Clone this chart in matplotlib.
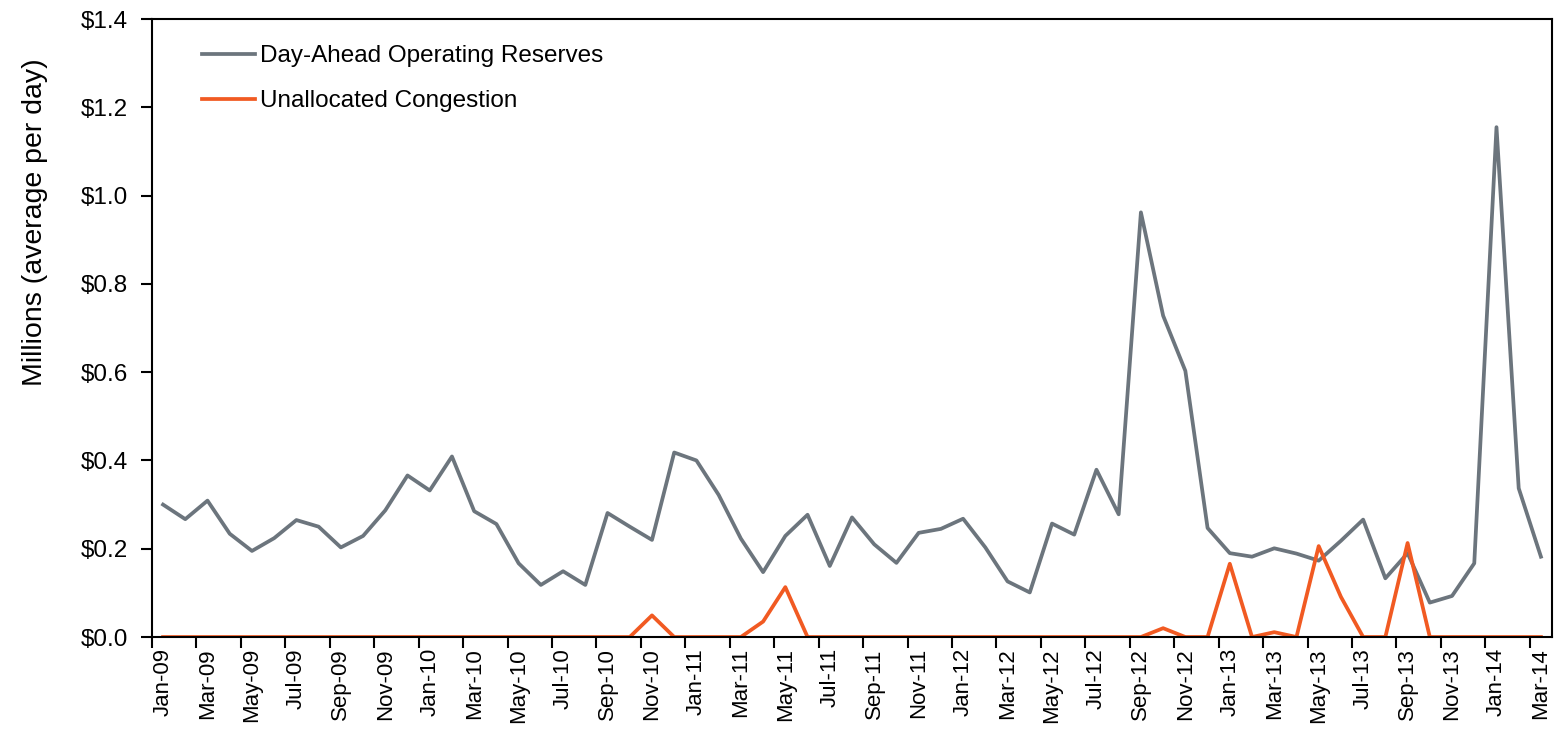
import matplotlib
matplotlib.use("Agg")
import matplotlib.pyplot as plt
import numpy as np

plt.rcParams['font.family'] = ['Liberation Sans', 'DejaVu Sans']

# monthly, Jan-09 .. Mar-14
months = ['Jan', 'Feb', 'Mar', 'Apr', 'May', 'Jun', 'Jul', 'Aug', 'Sep', 'Oct', 'Nov', 'Dec']
labels = [f"{m}-{y:02d}" for y in range(9, 15) for m in months][:63]

day_ahead = [0.300, 0.267, 0.309, 0.234, 0.195, 0.224, 0.265, 0.250, 0.203, 0.229,
             0.287, 0.366, 0.332, 0.409, 0.285, 0.256, 0.167, 0.118, 0.149, 0.118,
             0.281, 0.250, 0.220, 0.418, 0.400, 0.322, 0.223, 0.147, 0.229, 0.277,
             0.161, 0.271, 0.210, 0.168, 0.236, 0.245, 0.268, 0.203, 0.126, 0.101,
             0.257, 0.232, 0.379, 0.278, 0.962, 0.728, 0.603, 0.247, 0.190, 0.182,
             0.201, 0.189, 0.173, 0.218, 0.266, 0.133, 0.190, 0.078, 0.093, 0.167,
             1.155, 0.337, 0.182]

unalloc = [0.0] * 63
unalloc[22] = 0.049
unalloc[27] = 0.035
unalloc[28] = 0.113
unalloc[45] = 0.020
unalloc[48] = 0.166
unalloc[50] = 0.011
unalloc[52] = 0.206
unalloc[53] = 0.091
unalloc[56] = 0.213

x = np.arange(len(labels))

fig = plt.figure(figsize=(15.6, 7.35), dpi=100)
ax = fig.add_axes([0.0974, 0.1333, 0.8975, 0.8408])

ax.plot(x, day_ahead, color='#6C757D', lw=2.7, label='Day-Ahead Operating Reserves')
ax.plot(x, unalloc, color='#F15A22', lw=2.7, label='Unallocated Congestion')

ax.set_xlim(-0.5, len(labels) - 0.5)
ax.set_ylim(0, 1.4)
ax.set_yticks(np.arange(0, 1.41, 0.2))
ax.set_yticklabels([f"${v:.1f}" for v in np.arange(0, 1.41, 0.2)], fontsize=17.5)
ax.set_ylabel('Millions (average per day)', fontsize=20.5)
ax.yaxis.set_label_coords(-0.074, 0.672)

# labels every other month, tick marks at category boundaries
ax.set_xticks(x[::2])
ax.set_xticklabels(labels[::2], rotation=90, fontsize=16)
ax.tick_params(axis='x', which='major', length=0, pad=8)
ax.set_xticks(np.arange(-0.5, len(labels), 2), minor=True)
ax.tick_params(axis='x', which='minor', length=8, width=1.5, direction='out')
ax.tick_params(axis='y', length=8, width=1.5, direction='out', pad=9)

for s in ax.spines.values():
    s.set_linewidth(1.5)
    s.set_color('black')

ax.legend(loc='upper left', frameon=False, fontsize=17.5, handlelength=2.2,
          handletextpad=0.2, labelspacing=0.95, bbox_to_anchor=(0.02, 0.993))

fig.savefig('out.png', dpi=100)
